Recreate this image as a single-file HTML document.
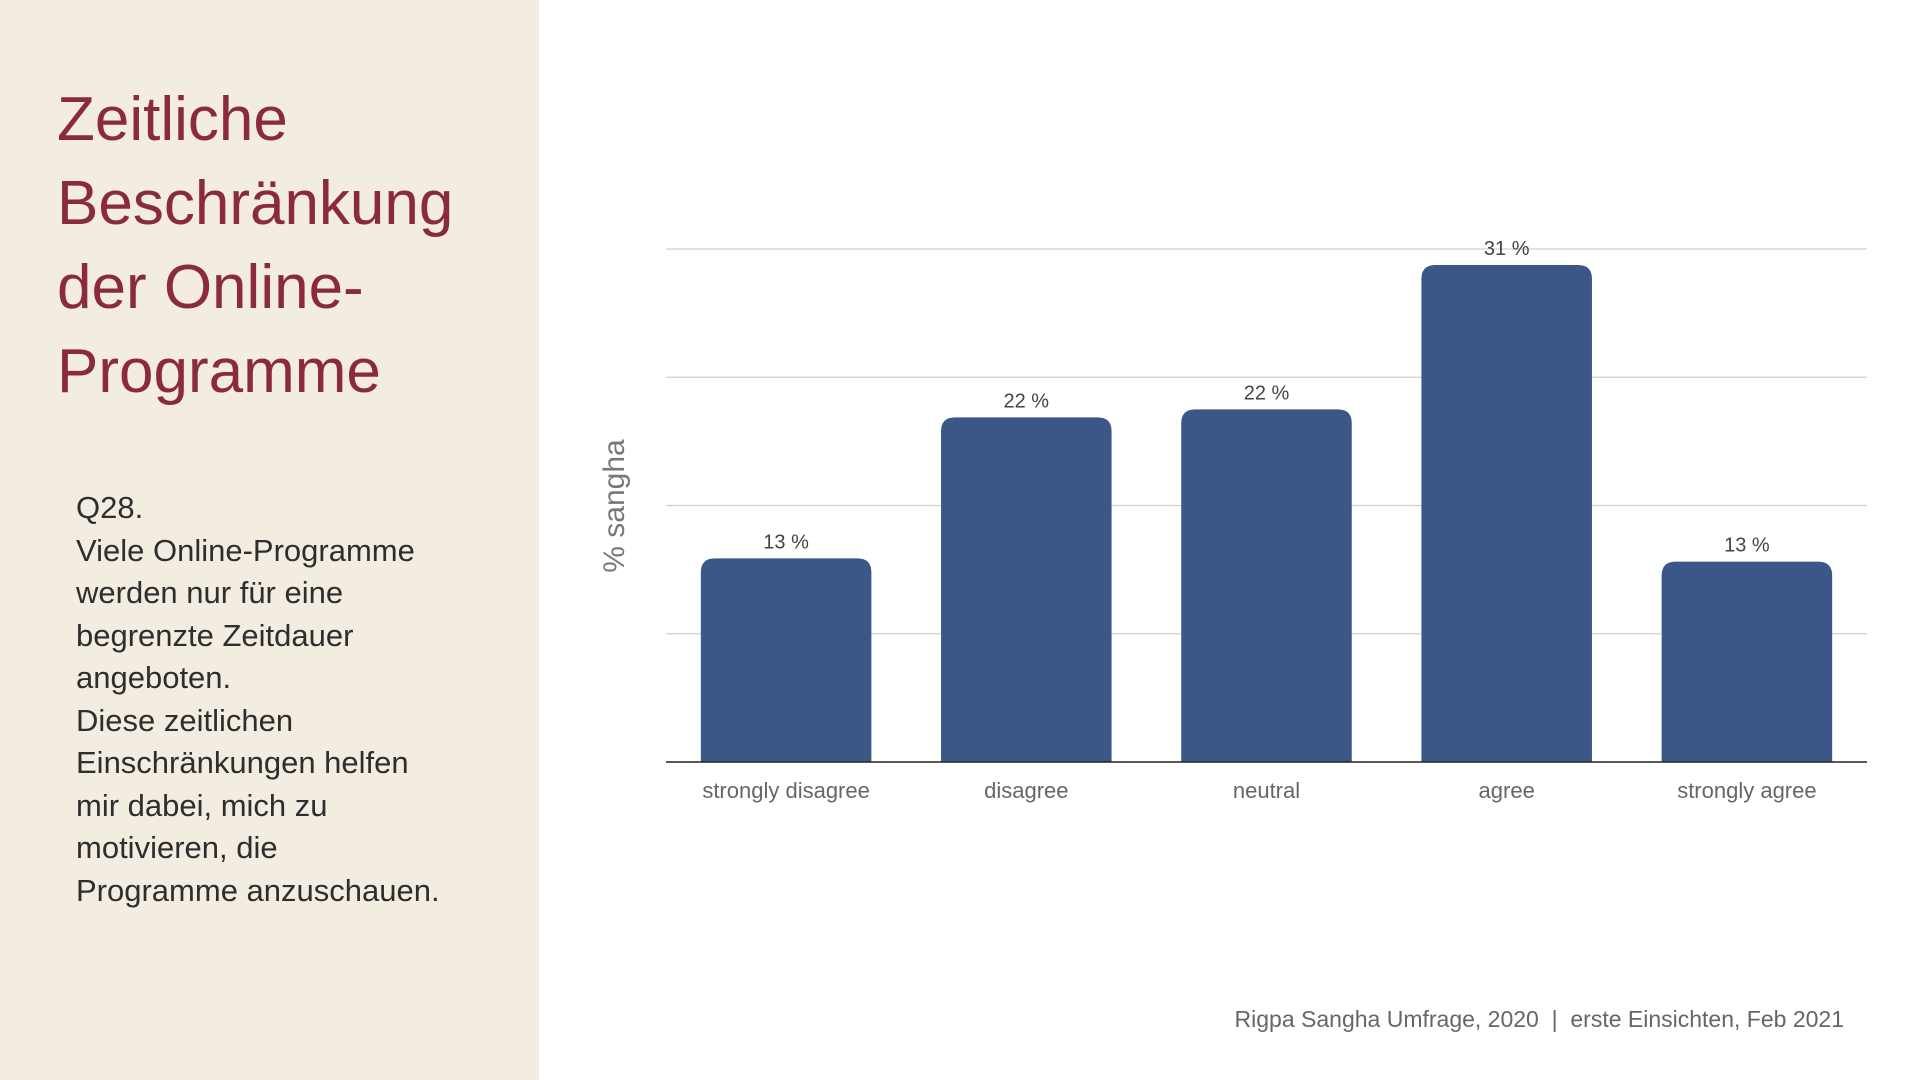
<!DOCTYPE html>
<html><head><meta charset="utf-8"><style>
body{margin:0;width:1920px;height:1080px;background:#fff;position:relative;overflow:hidden;font-family:"Liberation Sans",sans-serif}
#panel{position:absolute;left:0;top:0;width:539px;height:1080px;background:#f2ede0}
#title{position:absolute;left:57px;top:78px;font-size:62px;line-height:84px;color:#8b2a3f}
#body{position:absolute;left:76px;top:487px;font-size:31px;line-height:42.5px;color:#2e2e2e}
#foot{position:absolute;right:76px;top:1006px;font-size:23px;color:#666}
</style></head><body>
<div id="panel"></div>
<div id="title">Zeitliche<br>Beschränkung<br>der Online-<br>Programme</div>
<div id="body">Q28.<br>Viele Online-Programme<br>werden nur für eine<br>begrenzte Zeitdauer<br>angeboten.<br>Diese zeitlichen<br>Einschränkungen helfen<br>mir dabei, mich zu<br>motivieren, die<br>Programme anzuschauen.</div>
<div id="foot">Rigpa Sangha Umfrage, 2020 &nbsp;|&nbsp; erste Einsichten, Feb 2021</div>
<svg id="chart" width="1920" height="1080" style="position:absolute;left:0;top:0"></svg>
<script>
const categories=["strongly disagree","disagree","neutral","agree","strongly agree"];
const values=[12.7,21.5,22.0,31.0,12.5];
const valueLabels=["13 %","22 %","22 %","31 %","13 %"];
const gridTicks=[8,16,24,32];
const svg=document.getElementById('chart');const NS="http://www.w3.org/2000/svg";
const X0=666,X1=1867,Y0=762,Y1=249,VMAX=32;
const band=(X1-X0)/categories.length;
const y=v=>Y0-(v/VMAX)*(Y0-Y1);
const xc=i=>X0+band*(i+0.5);
function mk(t,a){const e=document.createElementNS(NS,t);for(const k in a)e.setAttribute(k,a[k]);svg.appendChild(e);return e;}
gridTicks.forEach(t=>{const l=mk('line',{x1:X0,x2:X1,y1:y(t),y2:y(t),stroke:'#d0d0d0','stroke-width':1.3});

});
const bw=band*0.71;
values.forEach((v,i)=>{
const r=mk('path',{fill:'#3a5787'});
const x=xc(i)-bw/2,top=y(v),rr=14;
r.setAttribute('d',`M${x},${Y0}L${x},${top+rr}Q${x},${top} ${x+rr},${top}L${x+bw-rr},${top}Q${x+bw},${top} ${x+bw},${top+rr}L${x+bw},${Y0}Z`);


const t=mk('text',{x:xc(i),y:top-10,'text-anchor':'middle','font-size':20,fill:'#444'});t.textContent=valueLabels[i];


const c=mk('text',{x:xc(i),y:798,'text-anchor':'middle','font-size':22,fill:'#666'});c.textContent=categories[i];


});
const ax=mk('line',{x1:X0,x2:X1,y1:Y0,y2:Y0,stroke:'#222','stroke-width':1.5});


const yt=mk('text',{x:0,y:0,transform:'translate(624,506) rotate(-90)','text-anchor':'middle','font-size':30,fill:'#777'});yt.textContent='% sangha';


</script>
</body></html>
